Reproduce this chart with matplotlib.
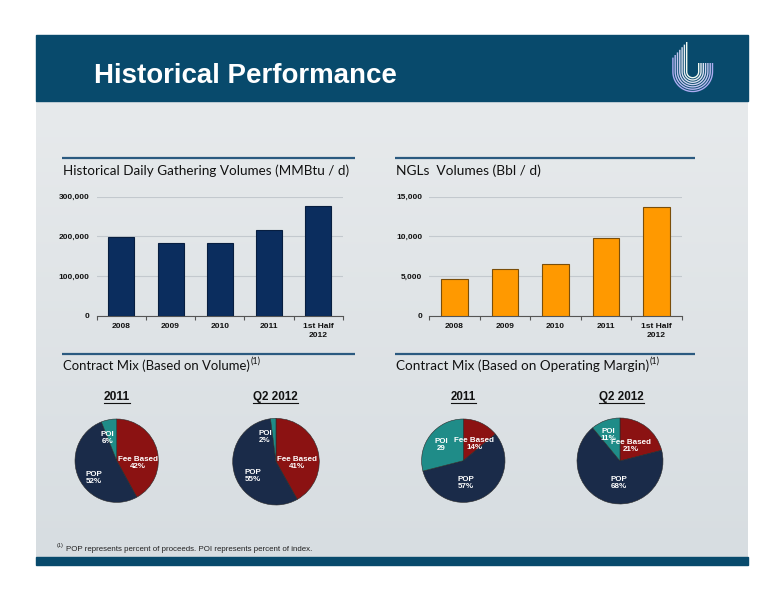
import matplotlib
matplotlib.use('Agg')
import matplotlib.pyplot as plt
import numpy as np
from matplotlib.patches import Rectangle
from matplotlib.colors import LinearSegmentedColormap

# ---------------- data ----------------
years = ['2008', '2009', '2010', '2011', '1st Half\n2012']
gathering = [197500, 184000, 184000, 216000, 275500]
gathering_ticks = [0, 100000, 200000, 300000]
ngl = [4660, 5840, 6510, 9830, 13740]
ngl_ticks = [0, 5000, 10000, 15000]

slice_names = ['Fee Based', 'POP', 'POI']
vol_2011 = [42, 52, 6]
vol_q2_2012 = [41, 55, 2]
margin_2011 = [14, 57, 29]
margin_q2_2012 = [21, 68, 11]
vol_2011_labels = ['Fee Based\n42%', 'POP\n52%', 'POI\n6%']
vol_q2_2012_labels = ['Fee Based\n41%', 'POP\n55%', 'POI\n2%']
margin_2011_labels = ['Fee Based\n14%', 'POP\n57%', 'POI\n29']
margin_q2_2012_labels = ['Fee Based\n21%', 'POP\n68%', 'POI\n11%']

# ---------------- figure ----------------
W, H = 776, 600
fig = plt.figure(figsize=(7.76, 6.0), dpi=100)
fig.patch.set_facecolor('white')
renderer = fig.canvas.get_renderer()

BANNER = '#084A6C'
NAVY_BAR = '#0B2D5E'
ORANGE = '#FF9900'
RED = '#8B1212'
POPC = '#1A2B49'
TEAL = '#1F8C88'
LINEC = '#2B5A80'
GRID = '#C3C9CE'

def axes_px(x0, y0, x1, y1, **kw):
    return fig.add_axes([x0 / W, 1 - y1 / H, (x1 - x0) / W, (y1 - y0) / H], **kw)

bg = fig.add_axes([0, 0, 1, 1])
bg.axis('off')
grad = np.linspace(0, 1, 256).reshape(-1, 1)
cmap = LinearSegmentedColormap.from_list('g', ['#E7EAEC', '#D7DDE1'])
bg.imshow(grad, extent=[36, 748, 557, 101], cmap=cmap, aspect='auto', zorder=0)
bg.add_patch(Rectangle((36, 35), 712, 66, color=BANNER, zorder=1))
bg.add_patch(Rectangle((36, 557), 712, 8, color=BANNER, zorder=1))
bg.set_xlim(0, W)
bg.set_ylim(H, 0)

# logo
cx, cy = 692.7, 71.7
n = 7
for i in range(n):
    r = 6 + i * 2.3
    ytl = 42 + i * 2.6
    ytr = 63
    th = np.linspace(np.pi, 2 * np.pi, 40)
    xs = np.concatenate([[cx - r], cx + r * np.cos(th), [cx + r]])
    ys = np.concatenate([[ytl], cy - r * np.sin(th), [ytr]])
    c = 1 - i * 0.06
    bg.plot(xs, ys, color=(0.75 * c + 0.2, 0.85 * c + 0.13, 0.95), lw=1.0, zorder=2,
            solid_capstyle='butt')

# title
t = bg.text(94, 83, 'Historical Performance', color='white', fontsize=20,
            fontweight='bold', family='Liberation Sans', ha='left', va='baseline', zorder=3)

def fit(txt, target):
    w = txt.get_window_extent(renderer).width
    txt.set_fontsize(txt.get_fontsize() * target / w)

fit(t, 302)

# section headers
def section(x0, x1, yline, ytext, text, width, sup=False):
    bg.plot([x0, x1], [yline, yline], color=LINEC, lw=1.6, zorder=3, solid_capstyle='butt')
    tx = bg.text(x0 + 1, ytext, text, fontsize=11, family=['Lato', 'DejaVu Sans'],
                 color='#111111', ha='left', va='baseline', zorder=3)
    fit(tx, width)
    if sup:
        bb = tx.get_window_extent(renderer)
        xr = bb.x1 + 1
        bg.text(xr, ytext - 6, '(1)', fontsize=6.5, family=['Lato', 'DejaVu Sans'],
                color='#111111', ha='left', va='baseline', zorder=3,
                transform=matplotlib.transforms.blended_transform_factory(
                    matplotlib.transforms.IdentityTransform(), bg.transData))

section(61.7, 355, 157.5, 175, 'Historical Daily Gathering Volumes (MMBtu / d)', 284)
section(395, 695, 157.5, 175, 'NGLs  Volumes (Bbl / d)', 145)
section(61.7, 355, 354, 370, 'Contract Mix (Based on Volume)', 187, sup=True)
section(395, 695, 354, 370, 'Contract Mix (Based on Operating Margin)', 252, sup=True)

# ---------------- bar charts ----------------
def bar_chart(x0, x1, values, ticks, color, edge):
    ax = axes_px(x0, 196.7, x1, 315.7)
    ax.patch.set_alpha(0)
    xs = np.arange(len(values))
    ax.bar(xs, values, width=0.53, color=color, edgecolor=edge, linewidth=0.8, zorder=3)
    ax.set_xlim(-0.5, len(values) - 0.5)
    ax.set_ylim(ticks[0], ticks[-1])
    ax.set_yticks(ticks)
    ax.set_yticklabels([f'{v:,}' for v in ticks])
    ax.yaxis.grid(True, color=GRID, lw=0.8, zorder=0)
    ax.set_axisbelow(True)
    for s in ['left', 'top', 'right']:
        ax.spines[s].set_visible(False)
    ax.spines['bottom'].set_color('#555555')
    ax.spines['bottom'].set_linewidth(0.8)
    ax.set_xticks(xs)
    ax.set_xticklabels(years)
    ax.set_xticks(np.arange(len(values) + 1) - 0.5, minor=True)
    ax.tick_params(axis='x', which='major', length=0, pad=5.5)
    ax.tick_params(axis='x', which='minor', length=3, color='#555555', width=0.8)
    ax.tick_params(axis='y', length=0, pad=5)
    for lab in ax.get_xticklabels() + ax.get_yticklabels():
        lab.set_fontsize(6)
        lab.set_fontweight('bold')
        lab.set_family('Liberation Sans')
        lab.set_color('#111111')
    for lab in ax.get_xticklabels():
        lab.set_linespacing(1.3)
    return ax

bar_chart(96.7, 343, gathering, gathering_ticks, NAVY_BAR, '#071E40')
bar_chart(429.3, 681.7, ngl, ngl_ticks, ORANGE, '#7A4E0A')

# ---------------- pies ----------------
def pie(cxp, cyp, r, values, labels, label_off, title, title_x, title_w):
    ax = axes_px(cxp - r, cyp - r, cxp + r, cyp + r)
    wedges, _ = ax.pie(values, colors=[RED, POPC, TEAL], startangle=90, counterclock=False,
                       radius=1, wedgeprops=dict(edgecolor='#2A2A2A', linewidth=0.4))
    for w_ in wedges:
        w_.set_clip_on(False)
    ax.set_xlim(-1, 1)
    ax.set_ylim(-1, 1)
    ax.set_aspect('equal')
    ax.axis('off')
    for lab, (dx, dy) in zip(labels, label_off):
        ax.text(dx / r, -dy / r, lab, color='white', fontsize=5.8, fontweight='bold',
                family='Liberation Sans', ha='center', va='center', linespacing=1.05)
    tt = bg.text(title_x, 400, title, fontsize=8, fontweight='bold', family='Liberation Sans',
                 ha='center', va='baseline', color='#111111', zorder=3)
    fit(tt, title_w)
    bg.plot([title_x - title_w / 2, title_x + title_w / 2], [402.5, 402.5], color='#111111',
            lw=0.8, zorder=3)

pie(116.7, 460.7, 41.7, vol_2011, vol_2011_labels,
    [(21, 2), (-23, 17), (-9, -23)], '2011', 117.2, 26)
pie(276, 461.7, 43.3, vol_q2_2012, vol_q2_2012_labels,
    [(21, 1), (-23, 14), (-11, -25)], 'Q2 2012', 275.2, 45)
pie(463.3, 460.7, 41.7, margin_2011, margin_2011_labels,
    [(11, -17), (3, 22), (-22, -16)], '2011', 463.3, 25)
pie(620, 461, 43, margin_q2_2012, margin_q2_2012_labels,
    [(11, -15), (-1, 22), (-12, -26)], 'Q2 2012', 621.7, 45)

# footnote
bg.text(57, 547.5, '(1)', fontsize=4, family='Liberation Sans', ha='left', va='baseline',
        color='#222222', zorder=3)
fn = bg.text(66, 551, 'POP represents percent of proceeds. POI represents percent of index.',
             fontsize=5.5, family='Liberation Sans', ha='left', va='baseline', color='#222222',
             zorder=3)
fit(fn, 245)

fig.savefig('out.png', dpi=100)
